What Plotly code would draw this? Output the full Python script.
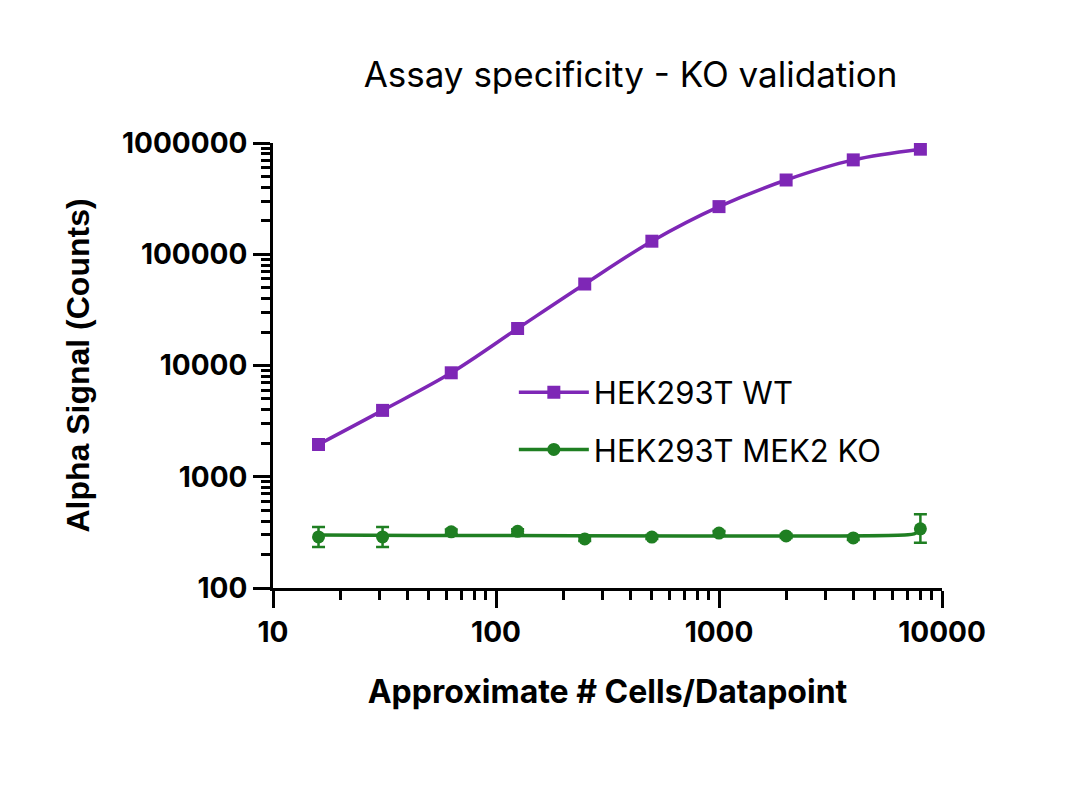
import plotly.graph_objects as go

cells = [16, 31, 63, 125, 250, 500, 1000, 2000, 4000, 8000]
wt_signal = [1950, 3950, 8600, 21500, 54000, 131000, 268000, 465000, 705000, 880000]
ko_signal = [288, 288, 320, 323, 276, 287, 312, 294, 282, 340]
ko_err_plus = [66, 66, 15, 15, 12, 12, 14, 12, 12, 120]
ko_err_minus = [54, 54, 15, 15, 12, 12, 14, 12, 12, 85]
ko_fit_x = [16, 6800, 7500, 8000]
ko_fit_y = [300, 300, 306, 330]

x_tickvals = [10, 100, 1000, 10000]
x_ticktext = ["10", "100", "1000", "10000"]
y_tickvals = [100, 1000, 10000, 100000, 1000000]
y_ticktext = ["100", "1000", "10000", "100000", "1000000"]

purple = "#7E27B6"
green = "#1F7F22"
tick_font = dict(family="Inter", size=28, color="black", weight="bold")

fig = go.Figure()
fig.add_trace(go.Scatter(
    x=cells, y=wt_signal, mode="lines+markers", name="HEK293T WT",
    line=dict(color=purple, width=3.5, shape="spline", smoothing=1.0),
    marker=dict(symbol="square", size=13, color=purple),
    showlegend=False,
))
fig.add_trace(go.Scatter(
    x=ko_fit_x, y=ko_fit_y, mode="lines",
    line=dict(color=green, width=3.5, shape="spline"),
    showlegend=False, hoverinfo="skip",
))
fig.add_trace(go.Scatter(
    x=cells, y=ko_signal, mode="markers", name="HEK293T MEK2 KO",
    marker=dict(symbol="circle", size=13, color=green),
    error_y=dict(type="data", symmetric=False, array=ko_err_plus,
                 arrayminus=ko_err_minus, color=green, thickness=2.5, width=6.5),
    showlegend=False,
))
# legend entries
fig.add_trace(go.Scatter(
    x=[None], y=[None], mode="lines+markers", name="HEK293T WT", legendgroup="wt",
    line=dict(color=purple, width=3.5),
    marker=dict(symbol="square", size=13, color=purple),
))
fig.add_trace(go.Scatter(
    x=[None], y=[None], mode="lines+markers", name="HEK293T MEK2 KO", legendgroup="ko",
    line=dict(color=green, width=3.5),
    marker=dict(symbol="circle", size=13, color=green),
))

axis_common = dict(
    type="log", showgrid=False, zeroline=False, automargin=False,
    showline=True, linecolor="black", linewidth=3,
    ticks="outside", ticklen=17, tickwidth=3, tickcolor="black",
    tickfont=tick_font,
    minor=dict(ticks="outside", ticklen=9, tickwidth=3, tickcolor="black", dtick="D1", showgrid=False),
)

fig.update_layout(
    width=1080, height=795,
    paper_bgcolor="white", plot_bgcolor="white",
    margin=dict(l=265, r=146, t=135, b=215),
    title=dict(text="Assay specificity - KO validation", x=0.5764, xanchor="center",
               y=0.9157, yanchor="middle", automargin=False,
               font=dict(family="Inter", size=35, color="black")),
    xaxis=dict(range=[1, 4], tickvals=x_tickvals, ticktext=x_ticktext,
               title=dict(text="Approximate # Cells/Datapoint",
               font=dict(family="Inter", size=32, color="black", weight="bold"), standoff=34), **axis_common),
    yaxis=dict(range=[2, 6], tickvals=y_tickvals, ticktext=y_ticktext,
               title=dict(text="Alpha Signal (Counts)",
               font=dict(family="Liberation Sans, Arial", size=32, color="black", weight="bold"), standoff=23), **axis_common),
    legend=dict(x=0.36, y=0.5, xanchor="left", yanchor="top",
                font=dict(family="Inter", size=31, color="black"),
                bgcolor="rgba(0,0,0,0)", tracegroupgap=14, itemwidth=70),
    showlegend=True,
)

fig.write_html("out.html")
